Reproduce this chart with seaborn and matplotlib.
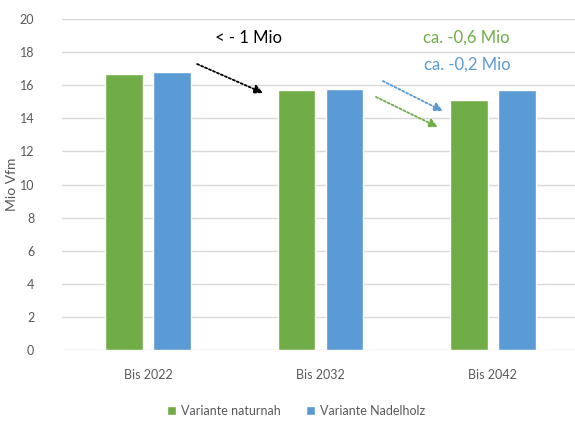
import matplotlib
matplotlib.use("Agg")
import matplotlib.pyplot as plt
import seaborn as sns
import pandas as pd

# Holzvorrat je Zeitraum und Variante (Mio Vfm)
zeitraeume = ["Bis 2022", "Bis 2032", "Bis 2042"]
variante_naturnah = [16.7, 15.7, 15.1]
variante_nadelholz = [16.8, 15.8, 15.7]
varianten = ["Variante naturnah", "Variante Nadelholz"]
farben = ["#70AD47", "#5B9BD5"]
y_ticks = list(range(0, 21, 2))

df = pd.DataFrame({
    "Zeitraum": zeitraeume * 2,
    "Vorrat": variante_naturnah + variante_nadelholz,
    "Variante": [varianten[0]] * 3 + [varianten[1]] * 3,
})

sns.set_theme(style="white")
plt.rcParams["font.family"] = ["Lato", "DejaVu Sans"]

fig = plt.figure(figsize=(5.75, 4.24), dpi=100)
ax = fig.add_axes([62 / 575, 1 - 350 / 424, 1 - 62 / 575, (350 - 19) / 424])

sns.barplot(data=df, x="Zeitraum", y="Vorrat", hue="Variante",
            palette=farben, width=0.556, gap=0.21, saturation=1,
            ax=ax, legend=True)

ax.set_ylim(0, 20)
ax.set_xlim(-0.5, 2.477)
ax.set_yticks(y_ticks)
ax.yaxis.grid(True, color="#D9D9D9", linewidth=1)
ax.set_axisbelow(True)
for s in ax.spines.values():
    s.set_visible(False)
ax.tick_params(axis="both", length=0, labelsize=9, colors="#595959")
ax.tick_params(axis="y", pad=20)
ax.tick_params(axis="x", pad=14)
ax.set_xlabel("")
ax.set_ylabel("Mio Vfm", fontsize=10, color="#595959")
ax.yaxis.set_label_coords(-0.086, 0.5)

# Veränderungen beschriften
ax.text(0.583, 18.85, "< - 1 Mio", ha="center", va="center",
        fontsize=12, color="black")
ax.text(1.846, 18.85, "ca. -0,6 Mio", ha="center", va="center",
        fontsize=12, color="#70AD47")
ax.text(1.852, 17.22, "ca. -0,2 Mio", ha="center", va="center",
        fontsize=12, color="#5B9BD5")

pfeile = [
    ((0.284, 17.28), (0.667, 15.53), "black"),
    ((1.362, 16.25), (1.710, 14.44), "#5B9BD5"),
    ((1.322, 15.29), (1.681, 13.47), "#70AD47"),
]
for start, ende, c in pfeile:
    ax.annotate("", xy=ende, xytext=start,
                arrowprops=dict(arrowstyle="-|>", linestyle=(0, (1.2, 1.2)),
                                color=c, lw=1.3, mutation_scale=13,
                                shrinkA=0, shrinkB=0))

leg = ax.legend(loc="center", bbox_to_anchor=(296 / 575, 1 - 411 / 424),
                bbox_transform=fig.transFigure, ncol=2, frameon=False,
                fontsize=9, handlelength=0.7, handleheight=0.7,
                handletextpad=0.4, columnspacing=2.0)
for t in leg.get_texts():
    t.set_color("#595959")

fig.savefig("out.png", dpi=100)
